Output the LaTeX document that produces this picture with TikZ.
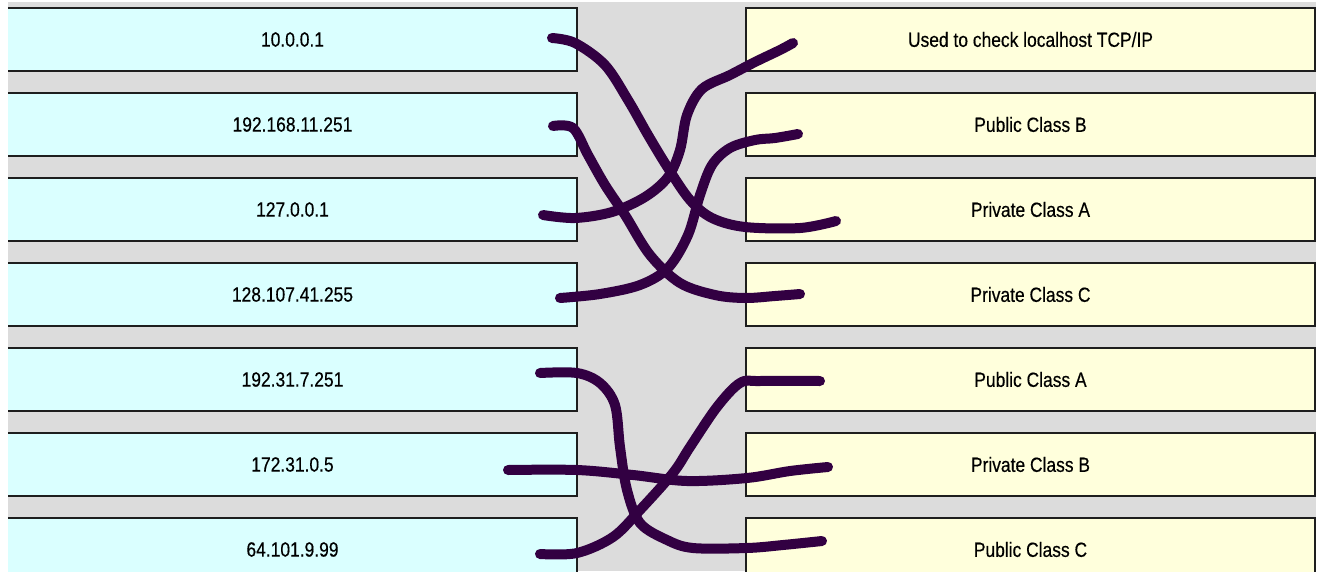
\documentclass[tikz,border=0pt]{standalone}
\usepackage{fontspec}
\setmainfont[FakeStretch=0.85,FakeBold=0.4]{Liberation Sans}
\definecolor{bggray}{RGB}{220,220,220}
\definecolor{leftfill}{RGB}{218,255,255}
\definecolor{rightfill}{RGB}{255,255,220}
\definecolor{wirecol}{RGB}{50,0,66}
\definecolor{edgecol}{RGB}{30,30,30}
\tikzset{
  lbox/.style={fill=leftfill, minimum width=569pt, minimum height=63pt, inner sep=0pt, font=\fontsize{20.5}{24}\selectfont},
  rbox/.style={fill=rightfill, draw=edgecol, line width=2pt, minimum width=569pt, minimum height=63pt, inner sep=0pt, font=\fontsize{20.5}{24}\selectfont},
  ledge/.style={draw=edgecol, line width=2pt},
  wire/.style={draw=wirecol, line width=10pt, line cap=round, line join=round},
}
\begin{document}
\begin{tikzpicture}[x=1pt,y=-1pt]
\useasboundingbox (0,0) rectangle (1320,571);
\clip (0,0) rectangle (1320,571);
\fill[bggray] (8,2) rectangle (1316,571);
% left boxes
\foreach \i/\t in {1/10.0.0.1,2/192.168.11.251,3/127.0.0.1,4/128.107.41.255,5/192.31.7.251,6/172.31.0.5,7/64.101.9.99}{
  \node[lbox] (L\i) at (292.5,{39.5+85*(\i-1)}) {\t};
  \draw[ledge] (L\i.north west) -- (L\i.north east) -- (L\i.south east) -- (L\i.south west);
}
% right boxes
\foreach \i/\t in {1/{Used to check localhost TCP/IP},2/Public Class B,3/Private Class A,4/Private Class C,5/Public Class A,6/Private Class B,7/Public Class C}{
  \node[rbox] (R\i) at (1030.5,{39.5+85*(\i-1)}) {\t};
}
% wire end points
\coordinate (a1) at (552,38);  \coordinate (b1) at (836,221);
\coordinate (a2) at (553,126); \coordinate (b2) at (800,294);
\coordinate (a3) at (543,215); \coordinate (b3) at (793,43);
\coordinate (a4) at (560,298); \coordinate (b4) at (798,134);
\coordinate (a5) at (540,373); \coordinate (b5) at (822,541);
\coordinate (a6) at (508,470); \coordinate (b6) at (828,467);
\coordinate (a7) at (540,554); \coordinate (b7) at (820,381);
\draw[wire] plot[smooth,tension=0.55] coordinates {(a1) (575,43) (605,65) (628,100) (648,135) (668,168) (690,200) (712,218) (745,227) (800,228) (b1)};
\draw[wire] plot[smooth,tension=0.55] coordinates {(a2) (573,128) (588,155) (605,185) (625,215) (650,255) (680,283) (715,295) (745,298) (775,296) (b2)};
\draw[wire] plot[smooth,tension=0.55] coordinates {(a3) (575,218) (612,212) (645,197) (668,177) (680,150) (687,115) (702,89) (730,75) (755,62) (780,50) (b3)};
\draw[wire] plot[smooth,tension=0.55] coordinates {(a4) (600,294) (640,285) (668,268) (688,235) (700,195) (712,165) (730,148) (755,140) (775,138) (b4)};
\draw[wire] plot[smooth,tension=0.55] coordinates {(a5) (577,373) (600,383) (615,405) (620,447) (627,490) (640,523) (667,540) (693,548) (747,548) (783,545) (b5)};
\draw[wire] plot[smooth,tension=0.55] coordinates {(a6) (577,470) (633,475) (687,481) (747,478) (790,471) (b6)};
\draw[wire] plot[smooth,tension=0.55] coordinates {(a7) (577,553) (613,537) (640,510) (673,473) (690,447) (717,407) (740,383) (760,381) (b7)};
\end{tikzpicture}
\end{document}
